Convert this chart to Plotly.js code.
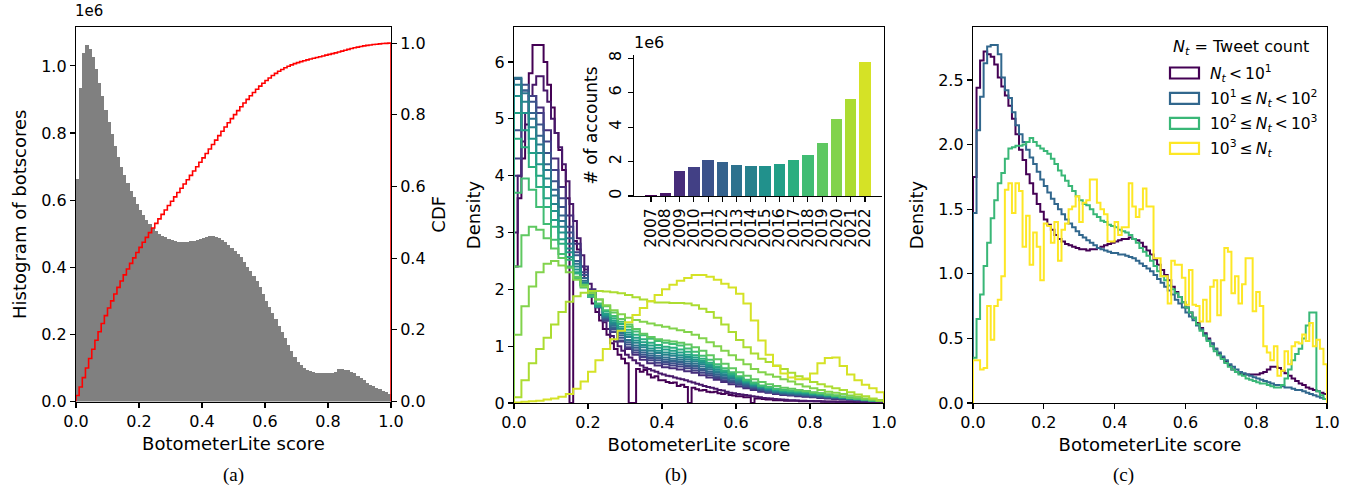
<!DOCTYPE html>
<html><head><meta charset="utf-8">
<script src="https://cdn.plot.ly/plotly-3.0.1.min.js"></script>
<style>body{margin:0;background:#fff}#chart{width:1354px;height:489px}</style>
</head><body><div id="chart"></div>
<script>
// ---------- DATA ----------
// (a) histogram of botscores, 100 bins on [0,1], counts in units of 1e6
const histCounts = [0.663,0.933,1.038,1.063,1.05,1.028,0.99,0.95,0.91,0.87,
0.834,0.797,0.762,0.73,0.70,0.675,0.65,0.628,0.608,0.59,
0.572,0.556,0.541,0.528,0.517,0.508,0.5,0.494,0.489,0.485,
0.481,0.478,0.476,0.474,0.474,0.475,0.477,0.479,0.482,0.485,
0.488,0.491,0.493,0.493,0.491,0.488,0.482,0.474,0.466,0.458,
0.449,0.44,0.43,0.416,0.402,0.388,0.374,0.358,0.34,0.32,
0.3,0.282,0.265,0.245,0.225,0.207,0.188,0.168,0.15,0.132,
0.118,0.108,0.1,0.095,0.091,0.088,0.086,0.085,0.084,0.084,
0.085,0.085,0.087,0.098,0.097,0.095,0.093,0.089,0.084,0.077,
0.07,0.063,0.056,0.05,0.045,0.04,0.036,0.032,0.027,0.022];

// (b) inset: accounts per creation year (1e6)
const years = ['2007','2008','2009','2010','2011','2012','2013','2014','2015','2016','2017','2018','2019','2020','2021','2022'];
const accountsPerYear = [0.04,0.16,1.44,1.68,2.09,1.97,1.8,1.74,1.74,1.85,2.09,2.38,3.08,4.49,5.66,7.8];

// (b) density of scores per creation year
const dens2007 = [2.4,3.6,4.3,4.9,5.8,6.3,6.3,6.3,6.0,5.6,
5.2,4.75,4.45,4.1,3.6,0,2.85,2.7,2.4,2.2,
1.95,1.75,1.6,1.45,1.3,1.2,1.05,0.95,0.85,0.78,
0.7,0,0,0.6,0.55,0.58,0.5,0.45,0.47,0.4,
0.4,0.37,0.35,0.36,0.3,0.32,0.28,0,0.27,0.24,
0.22,0.23,0.2,0.19,0.2,0.17,0.16,0.17,0.14,0.13,
0.12,0.12,0.1,0.1,0,0.08,0.08,0.07,0.06,0.06,
0.05,0.05,0.05,0.04,0.04,0.04,0.04,0.03,0.03,0.03,
0.03,0.03,0.03,0.02,0.02,0.02,0.02,0.02,0.02,0.02,
0.02,0.02,0.015,0.015,0.015,0.01,0.01,0.01,0.01,0.01];
const dens2008 = [3.0,4.0,4.6,5.1,5.4,5.6,5.75,5.75,5.5,5.3,
5.0,4.75,4.5,4.2,3.9,3.5,3.2,2.9,2.6,2.35,
2.1,1.9,1.72,1.55,1.42,1.3,1.18,1.08,1.0,0.92,
0.85,0.8,0.75,0.7,0.66,0.62,0.6,0.57,0.55,0.52,
0.5,0.48,0.47,0.45,0.43,0.42,0.4,0.38,0.36,0.34,
0.32,0.3,0.28,0.27,0.25,0.23,0.22,0.2,0.18,0.17,
0.16,0.15,0.14,0.13,0.12,0.11,0.1,0.09,0.085,0.08,
0.07,0.065,0.06,0.055,0.05,0.05,0.045,0.04,0.04,0.035,
0.035,0.03,0.03,0.03,0.025,0.025,0.025,0.02,0.02,0.02,
0.02,0.02,0.015,0.015,0.015,0.015,0.01,0.01,0.01,0.01];
const dens2009 = [4.0,5.1,5.4,5.2,4.8,4.3,3.8,3.3,2.8,2.4,2.0,1.7,1.45,1.25,1.08,0.95,0.85,0.76,0.7,0.66,0.63,0.61,0.59,0.56,0.53,0.49,0.45,0.41,0.37,0.33,0.29,0.26,0.23,0.2,0.18,0.16,0.14,0.13,0.12,0.11,0.1,0.09,0.08,0.07,0.06,0.055,0.05,0.045,0.04,0.035];
const dens2010 = [4.3,5.5,5.4,5.1,4.6,4.1,3.6,3.1,2.65,2.3,1.95,1.68,1.45,1.26,1.1,0.98,0.89,0.81,0.75,0.71,0.68,0.66,0.64,0.61,0.57,0.53,0.49,0.44,0.4,0.36,0.32,0.28,0.25,0.22,0.19,0.17,0.15,0.14,0.13,0.12,0.11,0.1,0.09,0.08,0.07,0.06,0.055,0.05,0.04,0.035];
const dens2011 = [4.8,5.6,5.3,4.9,4.4,3.9,3.45,3.0,2.6,2.25,1.95,1.7,1.48,1.3,1.15,1.03,0.93,0.85,0.79,0.75,0.72,0.7,0.68,0.65,0.61,0.57,0.52,0.47,0.43,0.38,0.34,0.3,0.27,0.23,0.2,0.18,0.16,0.15,0.14,0.13,0.12,0.11,0.1,0.09,0.08,0.07,0.06,0.05,0.045,0.04];
const dens2012 = [5.7,5.5,5.1,4.7,4.2,3.75,3.3,2.9,2.5,2.2,1.93,1.7,1.5,1.33,1.19,1.07,0.97,0.89,0.83,0.79,0.76,0.74,0.72,0.69,0.65,0.6,0.55,0.5,0.45,0.4,0.36,0.32,0.28,0.25,0.22,0.19,0.17,0.16,0.15,0.14,0.13,0.12,0.11,0.1,0.09,0.07,0.06,0.05,0.045,0.04];
const dens2013 = [5.72,5.45,5.0,4.55,4.1,3.65,3.2,2.8,2.45,2.15,1.9,1.69,1.51,1.36,1.23,1.11,1.01,0.93,0.87,0.83,0.8,0.78,0.76,0.73,0.69,0.64,0.59,0.53,0.48,0.43,0.38,0.34,0.3,0.26,0.23,0.2,0.18,0.17,0.16,0.15,0.14,0.13,0.12,0.1,0.09,0.08,0.065,0.055,0.045,0.04];
const dens2014 = [5.6,5.3,4.85,4.4,3.95,3.5,3.1,2.72,2.4,2.12,1.88,1.69,1.53,1.39,1.27,1.16,1.06,0.98,0.92,0.88,0.85,0.83,0.8,0.77,0.73,0.68,0.62,0.56,0.5,0.45,0.4,0.35,0.31,0.27,0.24,0.21,0.19,0.18,0.17,0.16,0.15,0.14,0.12,0.11,0.09,0.08,0.07,0.055,0.045,0.04];
const dens2015 = [5.4,5.1,4.65,4.2,3.8,3.38,3.0,2.65,2.35,2.1,1.88,1.7,1.55,1.42,1.3,1.2,1.1,1.02,0.96,0.92,0.89,0.87,0.84,0.81,0.76,0.71,0.65,0.59,0.53,0.47,0.42,0.37,0.32,0.28,0.25,0.22,0.2,0.19,0.18,0.17,0.16,0.14,0.13,0.11,0.1,0.08,0.07,0.06,0.05,0.04];
const dens2016 = [5.1,4.8,4.4,4.0,3.6,3.22,2.88,2.57,2.3,2.07,1.87,1.71,1.57,1.45,1.34,1.24,1.15,1.07,1.01,0.97,0.94,0.92,0.89,0.85,0.8,0.74,0.68,0.62,0.55,0.49,0.43,0.38,0.33,0.29,0.26,0.23,0.21,0.2,0.19,0.18,0.16,0.15,0.13,0.12,0.1,0.09,0.07,0.06,0.05,0.04];
const dens2017 = [4.65,4.5,4.15,3.8,3.45,3.1,2.8,2.52,2.28,2.07,1.89,1.74,1.61,1.49,1.39,1.29,1.2,1.12,1.06,1.02,0.99,0.97,0.94,0.9,0.84,0.78,0.71,0.64,0.57,0.51,0.45,0.39,0.34,0.3,0.27,0.24,0.22,0.21,0.2,0.19,0.17,0.16,0.14,0.12,0.11,0.09,0.08,0.06,0.05,0.04];
const dens2018 = [3.7,3.95,3.75,3.45,3.15,2.87,2.62,2.4,2.2,2.03,1.88,1.75,1.63,1.53,1.43,1.34,1.26,1.19,1.13,1.09,1.06,1.04,1.01,0.96,0.9,0.83,0.76,0.68,0.61,0.54,0.47,0.41,0.36,0.31,0.28,0.25,0.23,0.22,0.21,0.2,0.18,0.17,0.15,0.13,0.11,0.1,0.08,0.07,0.05,0.04];
const dens2019 = [2.4,2.95,3.1,3.05,2.9,2.72,2.55,2.38,2.22,2.08,1.95,1.82,1.7,1.59,1.48,1.38,1.3,1.22,1.16,1.12,1.1,1.08,1.06,1.03,0.98,0.92,0.84,0.77,0.69,0.61,0.54,0.48,0.42,0.37,0.33,0.3,0.27,0.25,0.23,0.21,0.19,0.17,0.15,0.13,0.11,0.09,0.08,0.06,0.05,0.04];
const dens2020 = [1.2,1.7,2.05,2.3,2.45,2.5,2.42,2.3,2.17,2.05,1.93,1.82,1.72,1.63,1.56,1.5,1.46,1.43,1.4,1.37,1.34,1.31,1.28,1.25,1.2,1.14,1.07,1.0,0.92,0.84,0.76,0.68,0.6,0.54,0.5,0.46,0.42,0.38,0.33,0.29,0.26,0.23,0.2,0.18,0.16,0.13,0.11,0.08,0.06,0.04];
const dens2021 = [0.1,0.4,0.7,0.95,1.15,1.38,1.6,1.78,1.88,1.94,1.97,1.97,1.96,1.95,1.93,1.9,1.86,1.82,1.79,1.77,1.77,1.76,1.76,1.75,1.72,1.66,1.6,1.5,1.38,1.25,1.11,0.98,0.87,0.78,0.72,0.66,0.6,0.53,0.47,0.42,0.37,0.33,0.29,0.26,0.23,0.19,0.15,0.12,0.08,0.05];
const dens2022 = [0.01,0.02,0.03,0.04,0.06,0.08,0.11,0.16,0.25,0.38,0.55,0.75,0.95,1.12,1.27,1.42,1.55,1.67,1.79,1.9,2.0,2.08,2.15,2.2,2.25,2.25,2.22,2.17,2.1,2.03,1.92,1.75,1.45,1.1,0.85,0.65,0.52,0.45,0.42,0.43,0.52,0.7,0.79,0.8,0.65,0.5,0.4,0.32,0.26,0.19];

// (c) density by tweet count group, 100 bins
const tweetLt10 = [1.75,2.44,2.65,2.72,2.7,2.68,2.62,2.52,2.45,2.38,
2.3,2.2,2.08,1.96,1.88,1.77,1.7,1.62,1.54,1.48,
1.42,1.38,1.34,1.3,1.27,1.25,1.23,1.22,1.21,1.2,
1.19,1.19,1.18,1.19,1.19,1.2,1.21,1.22,1.23,1.24,
1.25,1.26,1.27,1.27,1.28,1.27,1.26,1.24,1.21,1.18,
1.15,1.11,1.07,1.03,0.99,0.95,0.9,0.86,0.82,0.78,
0.74,0.7,0.66,0.62,0.58,0.54,0.5,0.46,0.42,0.38,
0.35,0.32,0.29,0.26,0.24,0.23,0.22,0.22,0.22,0.22,
0.22,0.23,0.24,0.26,0.28,0.28,0.27,0.25,0.23,0.21,
0.19,0.17,0.15,0.14,0.12,0.11,0.1,0.09,0.08,0.07];
const tweet10to100 = [1.47,2.11,2.37,2.63,2.76,2.77,2.77,2.7,2.52,2.42,
2.36,2.25,2.15,2.08,2.02,1.96,1.9,1.85,1.79,1.73,
1.68,1.63,1.58,1.54,1.5,1.46,1.42,1.39,1.36,1.33,
1.3,1.28,1.26,1.24,1.22,1.2,1.19,1.18,1.17,1.16,
1.16,1.15,1.15,1.14,1.13,1.12,1.1,1.08,1.06,1.04,
1.02,0.99,0.96,0.93,0.9,0.87,0.84,0.8,0.77,0.74,
0.7,0.67,0.64,0.6,0.57,0.53,0.49,0.46,0.42,0.39,
0.36,0.33,0.3,0.28,0.26,0.24,0.23,0.22,0.21,0.2,
0.19,0.18,0.17,0.16,0.15,0.14,0.14,0.13,0.12,0.12,
0.11,0.1,0.1,0.09,0.08,0.07,0.06,0.05,0.04,0.03];
const tweet100to1000 = [0.35,0.65,0.84,1.06,1.24,1.43,1.57,1.7,1.78,1.89,
1.97,1.98,1.99,1.99,2.0,2.02,2.05,2.02,1.99,1.97,
1.95,1.93,1.89,1.85,1.8,1.76,1.72,1.68,1.64,1.6,
1.57,1.54,1.53,1.5,1.46,1.44,1.41,1.4,1.38,1.37,
1.36,1.34,1.33,1.32,1.3,1.27,1.24,1.2,1.17,1.14,
1.1,1.06,1.02,0.98,0.95,0.91,0.88,0.85,0.82,0.78,
0.74,0.7,0.66,0.61,0.56,0.52,0.48,0.44,0.4,0.37,
0.34,0.31,0.28,0.26,0.24,0.22,0.21,0.19,0.18,0.17,
0.16,0.15,0.15,0.14,0.13,0.12,0.12,0.14,0.19,0.26,
0.33,0.38,0.42,0.5,0.6,0.7,0.7,0.09,0.06,0.03];
const tweetGe1000 = [0.33,0.33,0.26,0.27,0.75,0.49,0.75,0.8,0.98,1.65,
1.7,1.47,1.7,1.64,1.21,1.45,1.07,1.32,1.21,0.95,
1.39,1.37,1.24,1.4,1.1,1.34,1.39,1.5,1.52,1.6,
1.4,1.55,1.57,1.73,1.73,1.55,1.5,1.46,1.25,1.25,
1.4,1.3,1.36,1.36,1.7,1.52,1.44,1.5,1.66,1.52,
1.52,1.12,1.12,0.98,0.98,0.77,1.1,1.07,1.07,0.97,
0.76,1.03,0.76,0.75,0.63,0.8,0.63,0.9,0.95,0.68,
0.95,1.2,1.17,0.85,0.98,0.77,0.92,1.12,1.12,0.71,
0.86,0.75,0.44,0.39,0.33,0.44,0.21,0.25,0.4,0.3,
0.44,0.47,0.46,0.53,0.48,0.62,0.44,0.49,0.42,0.3];

const groupLabels = ['<i>N<sub>t</sub></i>\u2009&lt;\u200910<sup>1</sup>',
  '10<sup>1</sup>\u2009≤\u2009<i>N<sub>t</sub></i>\u2009&lt;\u200910<sup>2</sup>',
  '10<sup>2</sup>\u2009≤\u2009<i>N<sub>t</sub></i>\u2009&lt;\u200910<sup>3</sup>',
  '10<sup>3</sup>\u2009≤\u2009<i>N<sub>t</sub></i>'];

// ---------- HELPERS ----------
const W = 1354, H = 489;
const px = x => x / W, py = y => 1 - y / H;
const vStops = ['#440154','#482475','#414487','#355f8d','#2a788e','#21918c','#22a884','#44bf70','#7ad151','#bddf26','#fde725'];
function hex2rgb(h){return [1,3,5].map(i=>parseInt(h.substr(i,2),16));}
function viridis(t){
  const p = t*10, i = Math.min(9, Math.floor(p)), f = p - i;
  const a = hex2rgb(vStops[i]), b = hex2rgb(vStops[i+1]);
  const c = a.map((v,k)=>Math.round(v + (b[k]-v)*f));
  return 'rgb(' + c.join(',') + ')';
}
function stepXY(vals){
  const n = vals.length, xs=[0], ys=[0];
  for (let i=0;i<n;i++){ xs.push(i/n); ys.push(vals[i]); }
  xs.push(1); ys.push(0);
  return {xs, ys};
}
function stepTrace(vals, color, xa, ya, w){
  const s = stepXY(vals);
  return {type:'scatter', mode:'lines', x:s.xs, y:s.ys, xaxis:xa, yaxis:ya,
    line:{shape:'hv', color:color, width:w}, hoverinfo:'skip', showlegend:false};
}

const traces = [];
// (a)
const nA = histCounts.length;
traces.push({type:'bar', x: histCounts.map((v,i)=>(i+0.5)/nA), y: histCounts, width: 1/nA,
  marker:{color:'#808080', line:{width:0}}, xaxis:'x', yaxis:'y', showlegend:false, hoverinfo:'skip'});
const total = histCounts.reduce((a,b)=>a+b,0);
let run = 0;
const cdf = histCounts.map(v => (run += v) / total);
traces.push(stepTrace(cdf, '#ff0000', 'x', 'y2', 1.6));

// (b)
const densSeries = [dens2007,dens2008,dens2009,dens2010,dens2011,dens2012,dens2013,dens2014,dens2015,dens2016,dens2017,dens2018,dens2019,dens2020,dens2021,dens2022];
densSeries.forEach((d,i)=> traces.push(stepTrace(d, viridis(i/16), 'x2', 'y3', 2)));
// inset
traces.push({type:'bar', x: years, y: accountsPerYear, width:0.8, xaxis:'x4', yaxis:'y5',
  marker:{color: years.map((_,i)=>viridis(i/16)), line:{width:0}}, showlegend:false, hoverinfo:'skip'});

// (c)
const groupSeries = [tweetLt10, tweet10to100, tweet100to1000, tweetGe1000];
const groupColors = [viridis(0), viridis(1/3), viridis(2/3), viridis(1)];
groupSeries.forEach((d,i)=> traces.push(stepTrace(d, groupColors[i], 'x3', 'y4', 2)));

// ---------- LAYOUT ----------
const tf = {family:'DejaVu Sans', size:16, color:'#000'};
const ttl = {family:'DejaVu Sans', size:18, color:'#000'};
function xAx(d0,d1,anchor){
  return {domain:[px(d0),px(d1)], range:[0,1], anchor:anchor, showline:true, linecolor:'#000', linewidth:1.2,
    mirror:true, ticks:'outside', ticklen:5, tickwidth:1.1, tickcolor:'#000', tick0:0, dtick:0.2, tickformat:'.1f',
    tickfont:tf, showgrid:false, zeroline:false, title:{text:'BotometerLite score', font:ttl, standoff:7}};
}
function yAx(bot,top,range,dtick,fmt,title,anchor){
  return {domain:[py(bot),py(top)], range:range, anchor:anchor, showline:true, linecolor:'#000', linewidth:1.2,
    mirror:true, ticks:'outside', ticklen:5, tickwidth:1.1, tickcolor:'#000', tick0:0, dtick:dtick, tickformat:fmt,
    tickfont:tf, showgrid:false, zeroline:false, title:{text:title, font:ttl, standoff:9}};
}

const layout = {
  width:W, height:H, margin:{l:0,r:0,t:0,b:0}, paper_bgcolor:'#fff', plot_bgcolor:'rgba(0,0,0,0)',
  font:{family:'DejaVu Sans', color:'#000'}, showlegend:false, bargap:0,
  xaxis: xAx(76,391,'y'),
  yaxis: yAx(401.5,27,[0,1.116],0.2,'.1f','Histogram of botscores','x'),
  yaxis2: {overlaying:'y', side:'right', anchor:'x', range:[0,1.045], showline:false, ticks:'outside', ticklen:5,
    tickwidth:1.1, tickcolor:'#000', tick0:0, dtick:0.2, tickformat:'.1f', tickfont:tf, showgrid:false, zeroline:false,
    title:{text:'CDF', font:ttl, standoff:7}},
  xaxis2: xAx(514,884,'y3'),
  yaxis3: yAx(403,27,[0,6.615],1,'d','Density','x2'),
  xaxis3: xAx(973,1327,'y4'),
  yaxis4: yAx(403,27,[0,2.91],0.5,'.1f','Density','x3'),
  xaxis4: {domain:[px(634),px(882)], type:'category', range:[-1.19,16.19], anchor:'y5', showline:true, linecolor:'#000',
    linewidth:1.2, mirror:false, ticks:'outside', ticklen:5, tickwidth:1.1, tickcolor:'#000', tickangle:-90,
    tickmode:'array', tickvals:years, ticktext:years,
    tickfont:{family:'DejaVu Sans', size:15.5, color:'#000'}, showgrid:false, zeroline:false},
  yaxis5: {domain:[py(196),py(55)], range:[0,8.19], anchor:'x4', showline:true, linecolor:'#000', linewidth:1.2,
    mirror:false, ticks:'outside', ticklen:5, tickwidth:1.1, tickcolor:'#000', tick0:0, dtick:2, tickangle:-90,
    tickfont:tf, showgrid:false, zeroline:false, title:{text:'# of accounts', font:{family:'DejaVu Sans',size:17,color:'#000'}, standoff:4}},
  shapes: [], annotations: []
};

// exponent labels
layout.annotations.push({xref:'paper', yref:'paper', x:px(74), y:py(1), xanchor:'left', yanchor:'top',
  text:'1e6', showarrow:false, font:{family:'DejaVu Sans', size:15, color:'#000'}, borderpad:0});
layout.annotations.push({xref:'paper', yref:'paper', x:px(632), y:py(54), xanchor:'left', yanchor:'bottom',
  text:'1e6', showarrow:false, font:tf});
// captions
[['(a)',233],['(b)',676],['(c)',1123]].forEach(([t,x])=>layout.annotations.push({xref:'paper', yref:'paper',
  x:px(x), y:py(475), xanchor:'center', yanchor:'middle', text:t, showarrow:false,
  font:{family:'Liberation Serif', size:19, color:'#000'}}));
// legend for (c)
layout.annotations.push({xref:'paper', yref:'paper', x:px(1241), y:py(47), xanchor:'center', yanchor:'middle',
  text:'<i>N<sub>t</sub></i> = Tweet count', showarrow:false, font:tf});
const legY = [73, 98.3, 123.3, 148.3];
groupLabels.forEach((lab,i)=>{
  layout.shapes.push({type:'rect', xref:'paper', yref:'paper', x0:px(1170), x1:px(1199), y0:py(legY[i]-5.5), y1:py(legY[i]+5.5),
    line:{color:groupColors[i], width:2.2}, fillcolor:'rgba(0,0,0,0)'});
  layout.annotations.push({xref:'paper', yref:'paper', x:px(1208), y:py(legY[i]), xanchor:'left', yanchor:'middle',
    text:lab, showarrow:false, font:{family:'DejaVu Sans', size:15.5, color:'#000'}});
});

Plotly.newPlot('chart', traces, layout, {staticPlot:true, displayModeBar:false});
</script>
</body></html>
